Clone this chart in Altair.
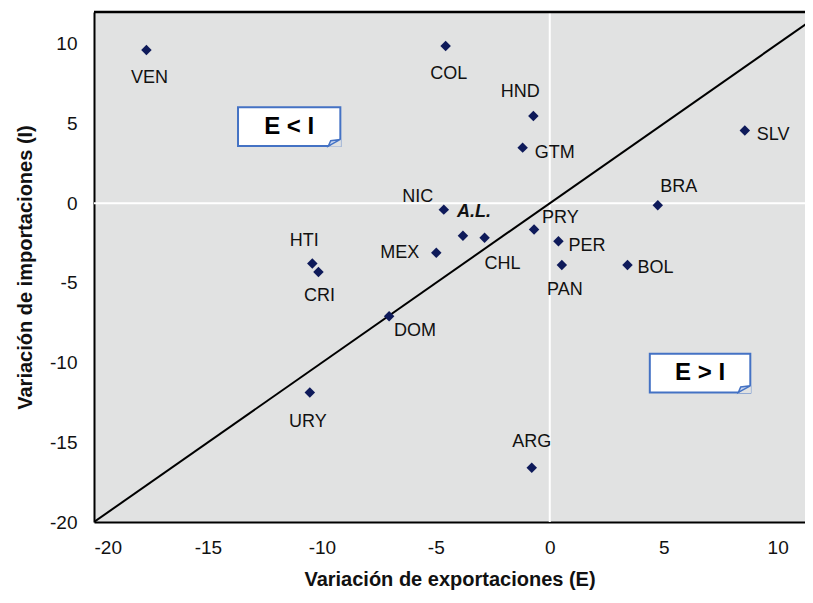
import altair as alt
import pandas as pd

# ---- data ----
countries = ["VEN", "COL", "HND", "GTM", "SLV", "BRA", "NIC", "A.L.", "CHL", "MEX",
             "PRY", "PER", "PAN", "BOL", "HTI", "CRI", "DOM", "URY", "ARG"]
exports = [-17.70, -4.57, -0.72, -1.19, 8.56, 4.74, -4.65, -3.81, -2.86, -4.98,
           -0.69, 0.38, 0.53, 3.41, -10.42, -10.15, -7.05, -10.53, -0.79]
imports = [9.61, 9.86, 5.48, 3.49, 4.57, -0.13, -0.40, -2.04, -2.16, -3.11,
           -1.64, -2.39, -3.88, -3.88, -3.78, -4.31, -7.09, -11.88, -16.60]

x_ticks = [-20, -15, -10, -5, 0, 5, 10]
y_ticks = [-20, -15, -10, -5, 0, 5, 10]
x_domain = [-20, 11.2]
y_domain = [-20, 12]

diag_vals = [-20, 12]  # reference line E = I

ann_text = ["E < I", "E > I"]
ann_x1 = [-13.68, 4.39]
ann_x2 = [-9.19, 8.80]
ann_y1 = [3.59, -11.87]
ann_y2 = [6.02, -9.45]

# ---- label placement (pixel offsets, style only) ----
label_pos = {
    "VEN": (3, 28, "center"), "COL": (3, 28, "center"), "HND": (-13, -24, "center"),
    "GTM": (12, 5, "left"), "SLV": (12, 5, "left"), "BRA": (21, -18, "center"),
    "NIC": (-26, -13, "center"), "A.L.": (11, -24, "center"), "CHL": (18, 26, "center"),
    "MEX": (-17, 0, "right"), "PRY": (8, -11, "left"), "PER": (10, 5, "left"),
    "PAN": (3, 25, "center"), "BOL": (10, 3, "left"), "HTI": (-8, -22, "center"),
    "CRI": (1, 24, "center"), "DOM": (5, 15, "left"), "URY": (-2, 29, "center"),
    "ARG": (0, -26, "center"),
}

FONT = "Liberation Sans"
BG = "#e1e2e2"

df = pd.DataFrame({"pais": countries, "x": exports, "y": imports})
diag = pd.DataFrame({"x": diag_vals, "y": diag_vals})
ann = pd.DataFrame({"t": ann_text, "x": ann_x1, "x2": ann_x2, "y": ann_y1, "y2": ann_y2})
ann["xc"] = (ann["x"] + ann["x2"]) / 2
ann["yc"] = (ann["y"] + ann["y2"]) / 2

XT = "Variación de exportaciones (E)"
YT = "Variación de importaciones (I)"
LABEL_EXPR = "'' + datum.value"


def X(field="x"):
    return alt.X(f"{field}:Q", title=XT,
                 scale=alt.Scale(domain=x_domain, nice=False, zero=False),
                 axis=alt.Axis(values=x_ticks, labelExpr=LABEL_EXPR))


def Y(field="y"):
    return alt.Y(f"{field}:Q", title=YT,
                 scale=alt.Scale(domain=y_domain, nice=False, zero=False),
                 axis=alt.Axis(values=y_ticks, labelExpr=LABEL_EXPR))


zero_v = alt.Chart(pd.DataFrame({"x": [0]})).mark_rule(color="white", strokeWidth=2).encode(x=X())
zero_h = alt.Chart(pd.DataFrame({"y": [0]})).mark_rule(color="white", strokeWidth=2).encode(y=Y())
top_border = alt.Chart(pd.DataFrame({"y": [y_domain[1]]})).mark_rule(color="black", strokeWidth=2.5).encode(y=Y())

diag_line = alt.Chart(diag).mark_line(color="black", strokeWidth=2, clip=True).encode(x=X(), y=Y())

points = alt.Chart(df).mark_point(shape="diamond", filled=True, size=110, color="#0e1a5a",
                                  opacity=1).encode(x=X(), y=Y())

label_layers = []
for c in countries:
    dx, dy, al = label_pos[c]
    bold = c == "A.L."
    label_layers.append(
        alt.Chart(df).transform_filter(alt.datum.pais == c).mark_text(
            font=FONT, fontSize=18, color="#111111", dx=dx, dy=dy, align=al,
            baseline="middle", fontWeight="bold" if bold else "normal",
            fontStyle="italic" if bold else "normal",
        ).encode(x=X(), y=Y(), text="pais:N")
    )

boxes = alt.Chart(ann).mark_rect(fill="white", stroke="#4472c4", strokeWidth=2).encode(
    x=X(), x2="x2:Q", y=Y(), y2="y2:Q")
fold_cover = alt.Chart(ann).mark_point(
    shape="M -1 0.05 L 0.05 -0.55 L 0.05 0.05 Z", filled=True, size=576, color=BG, opacity=1
).encode(x=X("x2"), y=Y("y"))
fold = alt.Chart(ann).mark_point(
    shape="M -1 0 L 0 -0.55 L -0.8 -0.45 Z", filled=True, size=576, fill="#c9d6ef",
    stroke="#4472c4", strokeWidth=1.5, opacity=1
).encode(x=X("x2"), y=Y("y"))
box_text = alt.Chart(ann).mark_text(font=FONT, fontSize=24, fontWeight="bold", color="black").encode(
    x=X("xc"), y=Y("yc"), text="t:N")

chart = alt.layer(
    zero_v, zero_h, diag_line, points, *label_layers, boxes, fold_cover, fold, box_text, top_border
).properties(
    width=711, height=510,
    padding={"left": 86, "top": 4, "right": 0, "bottom": 72},
    autosize=alt.AutoSizeParams(type="none"),
).configure_view(
    fill=BG, stroke=None
).configure_axis(
    domainColor="black", domainWidth=2, ticks=False, tickSize=0, grid=False,
    labelFont=FONT, labelFontSize=19, labelColor="#111111",
    titleFont=FONT, titleFontSize=20, titleFontWeight="bold", titleColor="#111111",
).configure_axisX(
    labelPadding=16, titlePadding=12,
).configure_axisY(
    labelPadding=17, titlePadding=14,
)

chart.save("out.html", embed_options={"renderer": "svg", "actions": False})
